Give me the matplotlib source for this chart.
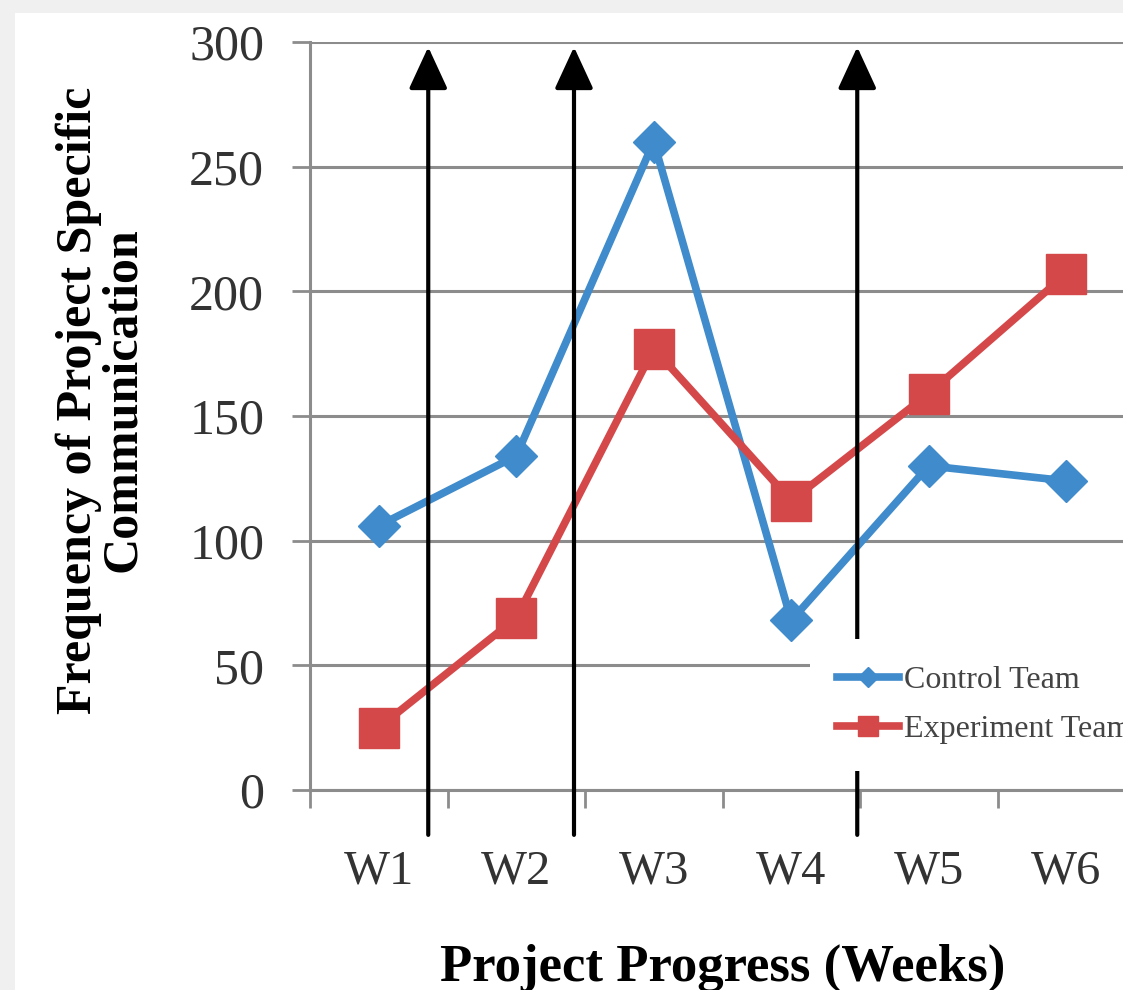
import matplotlib
matplotlib.use("Agg")
import matplotlib.pyplot as plt
from matplotlib.patches import Rectangle

weeks = ["W1", "W2", "W3", "W4", "W5", "W6"]
control = [106, 134, 260, 68, 130, 124]
experiment = [25, 69, 177, 116, 159, 207]
y_ticks = [0, 50, 100, 150, 200, 250, 300]
arrow_x = [1.36, 2.42, 4.48]

BLUE = "#3F8BCB"
RED = "#D5484A"
GRID = "#8C8C8C"
SERIF = ["Liberation Serif", "DejaVu Serif"]

fig = plt.figure(figsize=(11.23, 9.9), dpi=100)
fig.patch.set_facecolor("#F0F0F0")
fig.add_artist(Rectangle((15 / 1123, 0), 1, 1 - 13 / 990, transform=fig.transFigure,
                         facecolor="white", edgecolor="none", zorder=0))

ax = fig.add_axes([310 / 1123, 1 - 790 / 990, 825 / 1123, 748 / 990])
ax.set_facecolor("none")
x = list(range(1, len(weeks) + 1))

ax.set_xlim(0.5, 6.5)
ax.set_ylim(0, 300)
ax.set_yticks(y_ticks)
ax.set_yticklabels([str(v) for v in y_ticks], fontfamily=SERIF, fontsize=36, color="#333333")
ax.set_xticks(x)
ax.set_xticklabels(weeks, fontfamily=SERIF, fontsize=35, color="#333333")
ax.set_xticks([i + 0.5 for i in range(0, 7)], minor=True)
ax.tick_params(axis="x", which="major", length=0, pad=43)
ax.tick_params(axis="x", which="minor", length=13, width=2, color=GRID, direction="out")
ax.tick_params(axis="y", length=13, width=2, color=GRID, pad=20)
ax.grid(axis="y", color=GRID, linewidth=2.2, zorder=1)
for s in ["top", "right"]:
    ax.spines[s].set_visible(False)
for s in ["left", "bottom"]:
    ax.spines[s].set_color(GRID)
    ax.spines[s].set_linewidth(2.2)

ax.plot(x, control, color=BLUE, linewidth=5.5, marker="D", markersize=21,
        label="Control Team", zorder=3, clip_on=False)
ax.plot(x, experiment, color=RED, linewidth=5.5, marker="s", markersize=29,
        label="Experiment Team", zorder=3, clip_on=False)

for ax_x in arrow_x:
    ax.annotate("", xy=(ax_x, 298), xytext=(ax_x, -18), xycoords="data",
                arrowprops=dict(arrowstyle="-|>,head_length=1.3,head_width=0.6",
                                mutation_scale=20,
                                color="black", linewidth=3.0, shrinkA=0, shrinkB=0),
                annotation_clip=False, zorder=4)

leg = ax.legend(loc="center left", bbox_to_anchor=(500 / 825, (790 - 705) / 748),
                prop={"family": SERIF, "size": 23}, frameon=True, fancybox=False,
                borderpad=0.85, handlelength=1.95, handletextpad=0.15, labelspacing=0.6,
                markerscale=0.48, borderaxespad=0)
leg.get_frame().set_facecolor("white")
leg.get_frame().set_edgecolor("none")
leg.get_frame().set_alpha(1)
leg.set_zorder(5)
for t in leg.get_texts():
    t.set_color("#444444")

ax.set_ylabel("Frequency of Project Specific\nCommunication", fontfamily=SERIF,
              fontsize=36, fontweight="bold", linespacing=0.95)
ax.yaxis.set_label_coords((146 - 310) / 825, (790 - 400) / 748)
ax.set_xlabel("Project Progress (Weeks)", fontfamily=SERIF, fontsize=38,
              fontweight="bold", labelpad=36)

fig.savefig("out.png", dpi=100)
